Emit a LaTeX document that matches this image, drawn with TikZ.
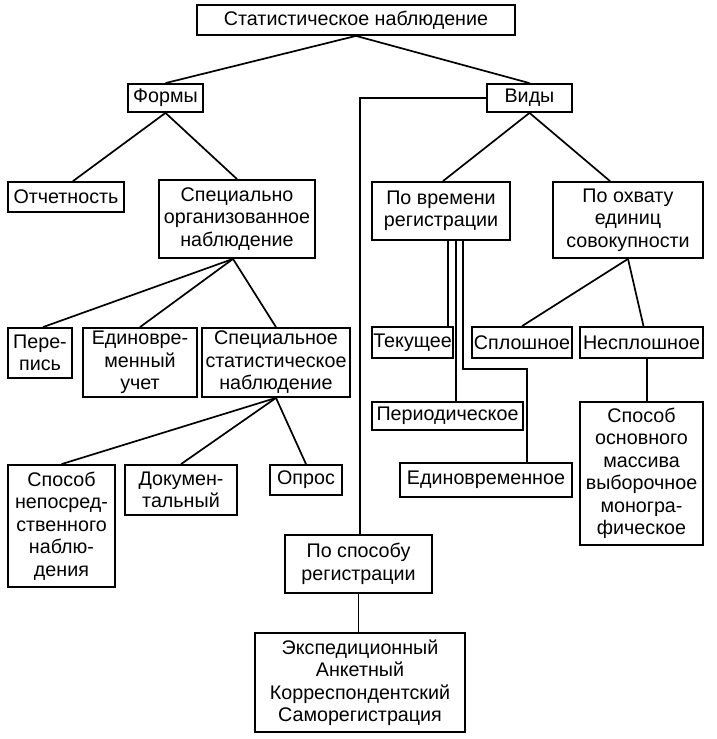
\documentclass[tikz,border=0pt]{standalone}
\usepackage{fontspec}
\setmainfont{Liberation Sans}
\begin{document}
\begin{tikzpicture}[x=1pt,y=-1pt,
  bx/.style n args={2}{draw, line width=1.8pt, inner sep=0pt, align=center,
     minimum width=#1, minimum height=#2,
     font=\fontsize{19.7}{22.5}\selectfont},
  ln/.style={line width=1.7pt}]
\fill[white] (0,0) rectangle (716,739);
\useasboundingbox (0,0) rectangle (716,739);
% nodes
\node[bx={318pt}{30pt}] (top) at (356,20) {Статистическое наблюдение};
\node[bx={75pt}{28pt}] (forms) at (165.5,98) {Формы};
\node[bx={85pt}{28pt}] (vidy) at (529.5,98) {Виды};
\node[bx={116pt}{30pt}] (otch) at (66,197) {Отчетность};
\node[bx={156pt}{78pt}] (sorg) at (237,219) {Специально\\организованное\\наблюдение};
\node[bx={138pt}{58pt}] (pv) at (441,211) {По времени\\регистрации};
\node[bx={150pt}{76pt}] (po) at (628,220) {По охвату\\единиц\\совокупности};
\node[bx={64pt}{50pt}] (perep) at (40,353) {Пере-\\пись};
\node[bx={114pt}{69pt}] (eu) at (140,362.5) {Единовре-\\менный\\учет};
\node[bx={148pt}{69pt}] (ssn) at (276,362.5) {Специальное\\статистическое\\наблюдение};
\node[bx={81pt}{31pt}] (tek) at (412.5,342.5) {Текущее};
\node[bx={100pt}{31pt}] (spl) at (522,342.5) {Сплошное};
\node[bx={123pt}{31pt}] (nespl) at (641.5,342.5) {Несплошное};
\node[bx={151pt}{28pt}] (per) at (447.5,416) {Периодическое};
\node[bx={123pt}{143pt}] (sosn) at (641.5,473.5) {Способ\\основного\\массива\\выборочное\\моногра-\\фическое};
\node[bx={172pt}{34pt}] (edv) at (486,480) {Единовременное};
\node[bx={107pt}{122pt}] (snep) at (61.5,526) {Способ\\непосред-\\ственного\\наблю-\\дения};
\node[bx={112pt}{50pt}] (dok) at (181,490) {Докумен-\\тальный};
\node[bx={72pt}{30pt}] (opr) at (306,480) {Опрос};
\node[bx={147pt}{58pt}] (psp) at (358.5,564) {По способу\\регистрации};
\node[bx={210pt}{99pt}] (eks) at (360,682.5) {Экспедиционный\\Анкетный\\Корреспондентский\\Саморегистрация};
% connectors
\draw[ln] (top.south) -- (forms.north);
\draw[ln] (top.south) -- (vidy.north);
\draw[ln] (forms.south) -- ([xshift=7pt]otch.north);
\draw[ln] (forms.south) -- (sorg.north);
\draw[ln] (vidy.south) -- ([xshift=2pt]pv.north);
\draw[ln] (vidy.south) -- ([xshift=-18pt]po.north);
\draw[ln] (vidy.west) -| ([xshift=1.5pt]psp.north);
\draw[ln] ([xshift=-4pt]sorg.south) -- ([xshift=3pt]perep.north);
\draw[ln] ([xshift=-4pt]sorg.south) -- (eu.north);
\draw[ln] ([xshift=-4pt]sorg.south) -- (ssn.north);
\draw[ln] (ssn.south) -- (snep.north);
\draw[ln] (ssn.south) -- (dok.north);
\draw[ln] (ssn.south) -- (opr.north);
\draw[ln] (po.south) -- (spl.north);
\draw[ln] (po.south) -- ([xshift=2pt]nespl.north);
\draw[ln] ([xshift=5.5pt]nespl.south) -- ([xshift=5.5pt]sosn.north);
\draw[ln] ([xshift=7pt]pv.south) -- ([xshift=7pt]pv.south |- tek.north);
\draw[ln] ([xshift=15pt]pv.south) -- ([xshift=15pt]pv.south |- per.north);
\coordinate (bend) at ([xshift=22pt,yshift=-128pt]pv.south);
\draw[ln] ([xshift=22pt]pv.south) -- (bend) -| ([xshift=41pt]edv.north);
\draw[ln] (psp.south) -- (psp.south |- eks.north);
\end{tikzpicture}
\end{document}
